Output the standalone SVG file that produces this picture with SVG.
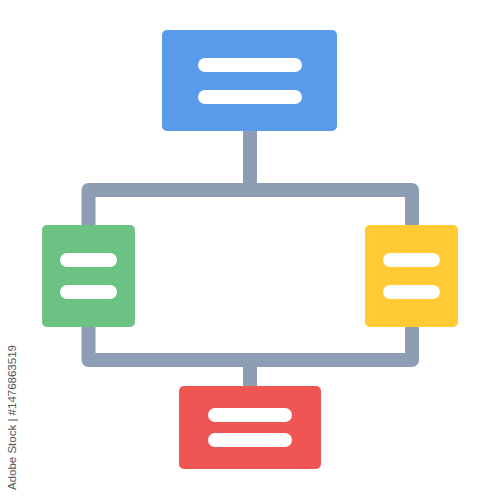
<svg xmlns="http://www.w3.org/2000/svg" width="500" height="500" viewBox="0 0 500 500">
<style>
.line{fill:none;stroke:#8d9db3;stroke-width:14;stroke-linejoin:round}
.bar{fill:#ffffff}
.wm{font-family:"Liberation Sans",Arial,sans-serif;font-size:11.5px;fill:#555}
</style>
<rect width="500" height="500" fill="#ffffff"/>
<g id="connectors">
<rect class="line" x="88.5" y="190" width="323.5" height="170"/>
<line class="line" x1="250" y1="128" x2="250" y2="190"/>
<line class="line" x1="250" y1="360" x2="250" y2="390"/>
</g>
<g id="top">
<rect x="162" y="30" width="175" height="101" rx="5" fill="#5a9aeb"/>
<rect class="bar" x="198" y="58" width="104" height="14" rx="7"/>
<rect class="bar" x="198" y="90" width="104" height="14" rx="7"/>
</g>
<g id="left">
<rect x="42" y="225" width="93" height="102" rx="5" fill="#6cc283"/>
<rect class="bar" x="60" y="253" width="57" height="14" rx="7"/>
<rect class="bar" x="60" y="285" width="57" height="14" rx="7"/>
</g>
<g id="right">
<rect x="365" y="225" width="93" height="102" rx="5" fill="#ffca33"/>
<rect class="bar" x="383" y="253" width="57" height="14" rx="7"/>
<rect class="bar" x="383" y="285" width="57" height="14" rx="7"/>
</g>
<g id="bottom">
<rect x="179" y="386" width="142" height="83" rx="5" fill="#ef5552"/>
<rect class="bar" x="208" y="408" width="84" height="14" rx="7"/>
<rect class="bar" x="208" y="433" width="84" height="14" rx="7"/>
</g>
<text class="wm" transform="translate(16,490) rotate(-90)">Adobe Stock | #1476863519</text>
</svg>
